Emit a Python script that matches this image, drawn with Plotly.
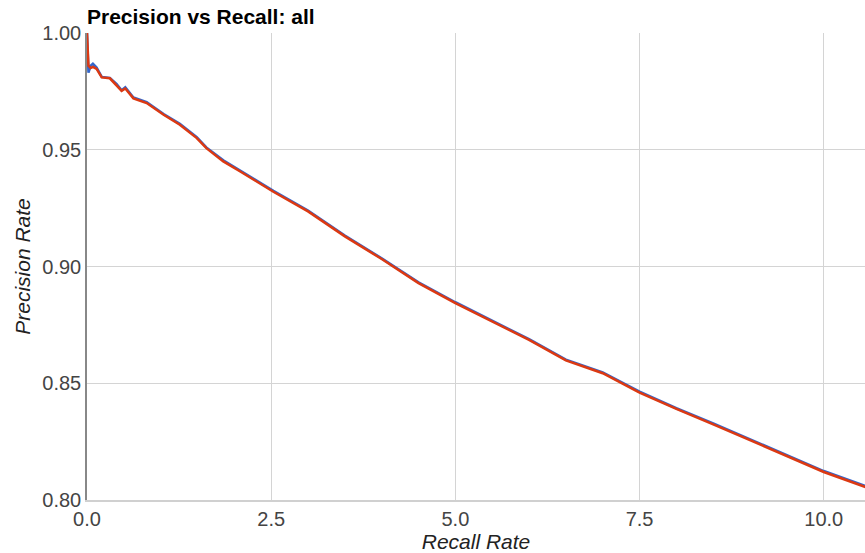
import plotly.graph_objects as go

# Data
recall = [0.0, 0.02, 0.05, 0.08, 0.13, 0.20, 0.31, 0.40, 0.47, 0.52, 0.63, 0.81,
          1.04, 1.26, 1.49, 1.62, 1.85, 2.08, 2.30, 2.53, 3.0, 3.5, 4.0, 4.5,
          5.0, 5.5, 6.0, 6.5, 7.0, 7.5, 8.0, 8.5, 9.0, 9.5, 10.0, 10.6]

precision_red = [1.000, 0.9860, 0.9850, 0.9855, 0.9846, 0.9810, 0.9806, 0.9778,
                 0.9752, 0.9762, 0.9720, 0.9700, 0.9650, 0.9607, 0.9550, 0.9507,
                 0.9450, 0.9407, 0.9365, 0.9320, 0.9236, 0.9129, 0.9032, 0.8929,
                 0.8843, 0.8764, 0.8686, 0.8598, 0.8543, 0.8460, 0.8390, 0.8324,
                 0.8257, 0.8190, 0.8120, 0.8052]

precision_blue = [1.000, 0.9830, 0.9860, 0.9868, 0.9852, 0.9812, 0.9808, 0.9782,
                  0.9755, 0.9768, 0.9724, 0.9704, 0.9653, 0.9611, 0.9554, 0.9510,
                  0.9455, 0.9410, 0.9369, 0.9324, 0.9240, 0.9133, 0.9035, 0.8932,
                  0.8847, 0.8767, 0.8689, 0.8601, 0.8546, 0.8464, 0.8393, 0.8328,
                  0.8261, 0.8194, 0.8124, 0.8056]

x_ticks = [0.0, 2.5, 5.0, 7.5, 10.0]
x_tick_labels = ["0.0", "2.5", "5.0", "7.5", "10.0"]
y_ticks = [0.80, 0.85, 0.90, 0.95, 1.00]
y_tick_labels = ["0.80", "0.85", "0.90", "0.95", "1.00"]

FONT = "Liberation Sans, Arial, sans-serif"

fig = go.Figure()
fig.add_trace(go.Scatter(x=recall, y=precision_blue, mode="lines",
                         line=dict(color="#3366cc", width=2.5), name="blue"))
fig.add_trace(go.Scatter(x=recall, y=precision_red, mode="lines",
                         line=dict(color="#dc3912", width=2.5), name="red"))

fig.update_layout(
    width=865, height=553,
    margin=dict(l=87, r=0, t=33, b=53),
    paper_bgcolor="white", plot_bgcolor="white",
    showlegend=False,
    title=dict(text="Precision vs Recall: all",
               font=dict(family=FONT, size=21, color="#000000", weight="bold"),
               x=87/865, xanchor="left", xref="container",
               y=1 - 17/553, yanchor="middle", yref="container"),
    xaxis=dict(range=[0, 10.56], tickvals=x_ticks, ticktext=x_tick_labels,
               automargin=False,
               showgrid=True, gridcolor="#d4d4d4", gridwidth=1,
               zeroline=False, showline=True, linecolor="#d0d0d0", linewidth=1.5,
               ticks="", tickfont=dict(family=FONT, size=20, color="#444444"),
               title=dict(text="Recall Rate", standoff=2,
                          font=dict(family=FONT, size=21, color="#222222", style="italic"))),
    yaxis=dict(range=[0.80, 1.00], tickvals=y_ticks, ticktext=y_tick_labels,
               automargin=False,
               showgrid=True, gridcolor="#d4d4d4", gridwidth=1,
               zeroline=False, showline=True, linecolor="#888888", linewidth=1.5,
               ticks="", tickfont=dict(family=FONT, size=20, color="#444444"),
               title=dict(text="Precision Rate", standoff=6,
                          font=dict(family=FONT, size=21, color="#222222", style="italic"))),
)

fig.write_html("out.html",
               config={"displayModeBar": False},
               post_script="document.body.style.margin='0';document.body.style.overflow='hidden';")
